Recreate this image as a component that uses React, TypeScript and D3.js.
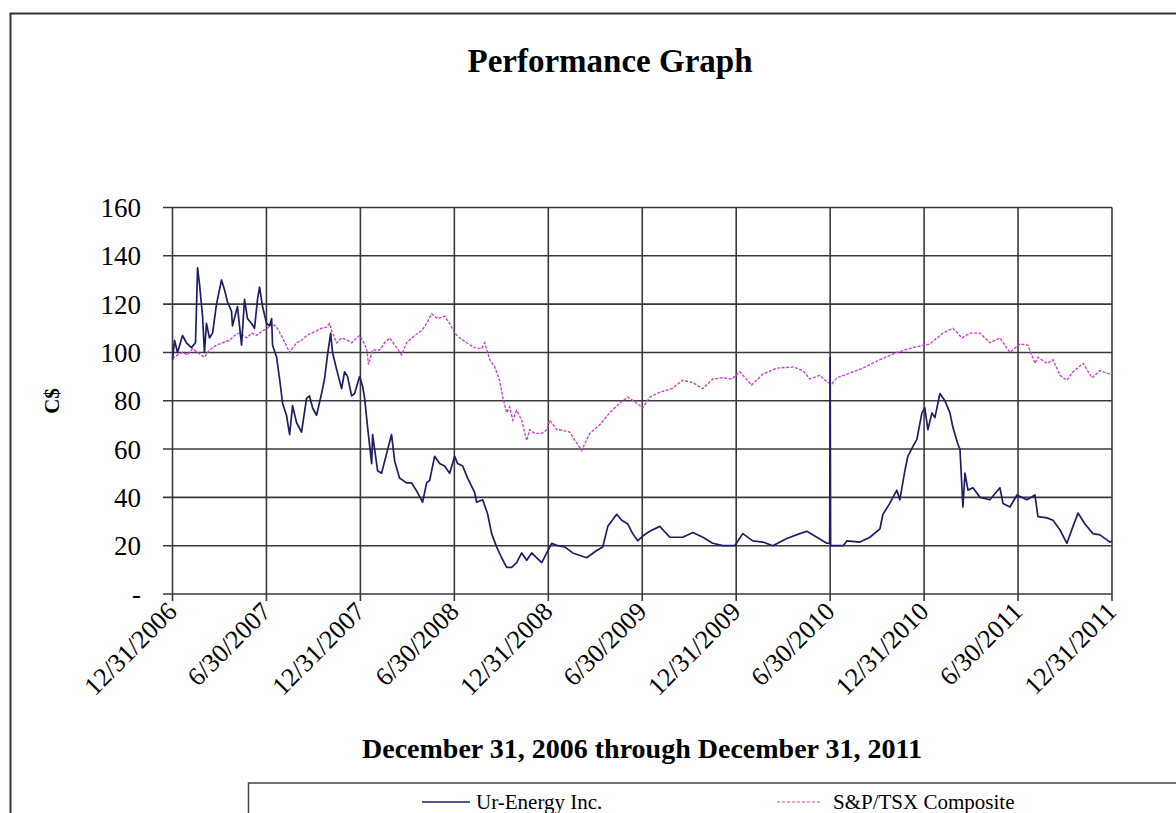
import { line, scaleLinear } from "d3";

// month offsets from 12/31/2006, values in C$
const urEnergy: [number, number][] = [
  [0, 97], [0.13, 105], [0.32, 100], [0.64, 107], [0.89, 104], [1.21, 102], [1.47, 104],
  [1.6, 135], [1.73, 128], [1.92, 115], [2.04, 100], [2.17, 112], [2.36, 106], [2.56, 108],
  [2.81, 120], [3.13, 130], [3.32, 126], [3.51, 121], [3.77, 117], [3.83, 111], [4.15, 119],
  [4.41, 103], [4.6, 122], [4.79, 114], [5.05, 112], [5.24, 110], [5.43, 122], [5.56, 127],
  [5.75, 119], [6.01, 112], [6.2, 111], [6.33, 114], [6.39, 103], [6.65, 98], [6.84, 89],
  [7.03, 79], [7.28, 74], [7.48, 66], [7.67, 78], [7.92, 71], [8.24, 67], [8.56, 81],
  [8.75, 82], [8.95, 77], [9.2, 74], [9.52, 83], [9.71, 89], [9.9, 99], [10.1, 108],
  [10.22, 100], [10.48, 93], [10.8, 85], [10.99, 92], [11.18, 90], [11.44, 82], [11.63, 83],
  [11.95, 90], [12.14, 86], [12.27, 81], [12.46, 69], [12.72, 54], [12.78, 66], [13.1, 51],
  [13.35, 50], [13.67, 58], [13.99, 66], [14.19, 55], [14.5, 48], [14.95, 46], [15.27, 46],
  [15.65, 42], [15.97, 38], [16.23, 46], [16.42, 47], [16.74, 57], [17.06, 54], [17.38, 53],
  [17.7, 50], [18.02, 57], [18.21, 54], [18.53, 53], [18.85, 48], [19.3, 42], [19.42, 38],
  [19.81, 39], [20.13, 33], [20.38, 25], [20.7, 19.5], [21.02, 15], [21.34, 11], [21.66, 11],
  [21.98, 13], [22.3, 17], [22.62, 14], [22.94, 17], [23.26, 15], [23.58, 13], [23.9, 17],
  [24.22, 21], [24.6, 20], [25.05, 19.5], [25.56, 17], [26.45, 15], [27.09, 18], [27.48, 19.5],
  [27.8, 28], [28.37, 33], [28.69, 30.5], [29.07, 29], [29.39, 25], [29.71, 22], [30.03, 24],
  [30.48, 26], [31.12, 28], [31.76, 23.5], [32.59, 23.5], [33.23, 25.5], [33.87, 23.5],
  [34.5, 21], [35.14, 20], [35.91, 20], [36.42, 25], [37.06, 22], [37.7, 21.5], [38.34, 20],
  [39.23, 23], [40.06, 25], [40.51, 26], [41.15, 23.5], [41.79, 21], [41.97, 21], [42, 98],
  [42.03, 20], [42.84, 20], [43.07, 22], [43.9, 21.5], [44.54, 23.5], [45.18, 27], [45.37, 33],
  [45.81, 37.5], [46.26, 43], [46.45, 39], [46.77, 51], [46.96, 57], [47.28, 61], [47.54, 64],
  [47.86, 75], [48.05, 77], [48.24, 68], [48.5, 75], [48.69, 73], [49.01, 83], [49.33, 80],
  [49.65, 75], [49.84, 69], [50.16, 62], [50.29, 60], [50.48, 36], [50.61, 50], [50.8, 43],
  [51.12, 44], [51.57, 40], [52.2, 39], [52.84, 44], [53.04, 37.5], [53.48, 36], [53.93, 41],
  [54.57, 39], [55.08, 41], [55.27, 32], [55.85, 31.5], [56.23, 30.5], [56.68, 26.5],
  [57.12, 21], [57.51, 28], [57.83, 33.5], [58.27, 29], [58.79, 25], [59.23, 24.5],
  [59.87, 21.5], [60, 22]
];

const spTsx: [number, number][] = [
  [0, 97.5], [0.32, 99], [0.64, 100], [0.96, 99], [1.28, 101.5], [1.6, 100], [2.04, 98],
  [2.36, 101], [2.81, 103], [3.19, 104], [3.64, 105], [3.96, 107], [4.28, 108], [4.73, 106],
  [5.05, 108], [5.37, 107], [5.75, 109], [6.07, 110], [6.33, 112], [6.65, 110.5], [7.03, 106],
  [7.48, 100], [7.92, 104], [8.24, 105], [8.56, 107], [8.88, 108], [9.2, 109], [9.52, 110],
  [9.84, 110.5], [10.03, 112], [10.16, 109], [10.48, 104], [10.8, 106], [11.18, 105],
  [11.44, 104], [11.76, 106], [11.95, 107], [12.14, 105], [12.4, 101.5], [12.52, 95],
  [12.78, 101], [13.23, 101], [13.55, 104], [13.87, 106], [14.31, 102], [14.63, 99],
  [14.95, 104], [15.46, 107], [15.91, 109], [16.23, 112], [16.55, 116], [16.93, 114],
  [17.38, 115], [17.7, 112], [18.02, 108], [18.34, 106], [18.79, 104], [19.3, 102],
  [19.74, 101.5], [19.94, 104], [20.26, 97], [20.58, 94], [20.89, 88.5], [21.09, 81.5],
  [21.34, 75], [21.53, 77.5], [21.73, 72], [21.98, 76], [22.3, 72], [22.62, 63.5], [22.81, 68],
  [23.13, 66.5], [23.58, 66.5], [23.9, 68], [24.09, 72], [24.54, 68], [24.73, 68], [25.37, 67],
  [25.81, 62.5], [26.13, 59.5], [26.65, 66.5], [27.28, 70], [27.92, 75], [28.56, 79],
  [29.07, 81.5], [29.65, 79], [30.03, 77], [30.48, 81.5], [31.12, 83.5], [31.88, 85],
  [32.59, 88.5], [33.23, 87.5], [33.87, 85], [34.5, 89], [35.14, 89.5], [35.72, 89],
  [36.23, 92], [36.98, 86.5], [37.7, 91], [38.59, 93.5], [39.62, 94], [40.26, 92.5],
  [40.7, 89], [41.34, 90.5], [41.85, 87.5], [42.11, 87], [42.43, 89.5], [43.07, 91],
  [44.09, 93.5], [45.18, 97], [46.26, 100], [47.28, 102], [48.37, 103.5], [49.2, 108],
  [49.84, 110], [50.42, 106], [50.93, 108], [51.57, 108], [52.2, 104], [52.84, 106],
  [53.48, 100], [54.12, 103.5], [54.63, 103], [55.08, 95.5], [55.27, 98], [55.85, 95.5],
  [56.23, 97], [56.68, 90.5], [57.12, 88.5], [57.51, 92], [58.15, 95.5], [58.72, 89.5],
  [59.23, 92.5], [59.87, 91], [60, 92]
];

const xTickMonths = [0, 6, 12, 18, 24, 30, 36, 42, 48, 54, 60];
const xTickLabels = [
  "12/31/2006", "6/30/2007", "12/31/2007", "6/30/2008", "12/31/2008", "6/30/2009",
  "12/31/2009", "6/30/2010", "12/31/2010", "6/30/2011", "12/31/2011"
];
const yTicks = [0, 20, 40, 60, 80, 100, 120, 140, 160];

const width = 1176;
const height = 813;
const plot = { left: 172.5, right: 1112, top: 207.5, bottom: 594 };
const serif = "'Liberation Serif', 'Times New Roman', serif";
const gridColor = "#3a3a3a";
const urColor = "#1e1e66";
const spColor = "#cc44cc";

export default function App() {
  const x = scaleLinear().domain([0, 60]).range([plot.left, plot.right]);
  const y = scaleLinear().domain([0, 160]).range([plot.bottom, plot.top]);
  const path = line<[number, number]>()
    .x((d) => x(d[0]))
    .y((d) => y(d[1]));

  return (
    <svg
      width={width}
      height={height}
      style={{ position: "absolute", left: 0, top: 0, background: "#fff" }}
      fontFamily={serif}
    >
      <rect x={10.5} y={13.5} width={1200} height={900} fill="none" stroke="#333" strokeWidth={2} />
      <text x={610} y={72} textAnchor="middle" fontSize={33} fontWeight="bold">
        Performance Graph
      </text>

      {yTicks.map((t) => (
        <g key={`y${t}`}>
          <line x1={163} x2={plot.right} y1={y(t)} y2={y(t)} stroke={gridColor} strokeWidth={1.6} />
          <text x={141} y={y(t)} dy="0.35em" textAnchor="end" fontSize={27}>
            {t === 0 ? "-" : t}
          </text>
        </g>
      ))}
      {xTickMonths.map((m, i) => (
        <g key={`x${m}`}>
          <line x1={x(m)} x2={x(m)} y1={plot.top} y2={601} stroke={gridColor} strokeWidth={1.6} />
          <text
            transform={`translate(${x(m) + 6},${613}) rotate(-45)`}
            textAnchor="end"
            fontSize={26}
          >
            {xTickLabels[i]}
          </text>
        </g>
      ))}

      <path d={path(spTsx) ?? ""} fill="none" stroke={spColor} strokeWidth={1.4} strokeDasharray="3 1.5" />
      <path d={path(urEnergy) ?? ""} fill="none" stroke={urColor} strokeWidth={1.7} strokeLinejoin="round" />

      <text transform="translate(59,401) rotate(-90)" textAnchor="middle" fontSize={21} fontWeight="bold">
        C$
      </text>
      <text x={642} y={758} textAnchor="middle" fontSize={28} fontWeight="bold">
        December 31, 2006 through December 31, 2011
      </text>

      <rect x={248.5} y={783} width={1000} height={100} fill="none" stroke="#444" strokeWidth={1.5} />
      <line x1={422} x2={470} y1={802} y2={802} stroke={urColor} strokeWidth={1.4} />
      <text x={476} y={809} fontSize={21}>
        Ur-Energy Inc.
      </text>
      <line x1={777} x2={822} y1={802} y2={802} stroke={spColor} strokeWidth={1.2} strokeDasharray="3 2" />
      <text x={833} y={809} fontSize={21}>
        S&amp;P/TSX Composite
      </text>
    </svg>
  );
}
